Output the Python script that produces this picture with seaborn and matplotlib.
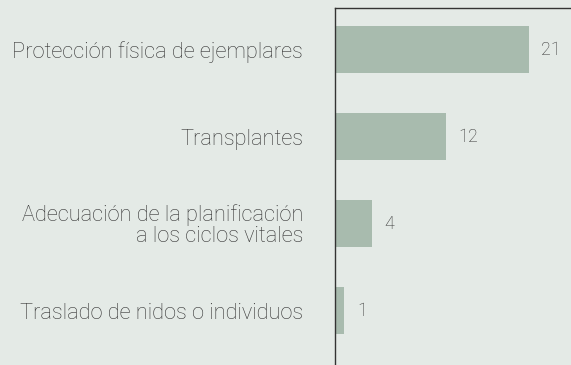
import matplotlib
matplotlib.use("Agg")
import matplotlib.pyplot as plt
import seaborn as sns
import pandas as pd

categories = [
    "Protección física de ejemplares",
    "Transplantes",
    "Adecuación de la planificación\na los ciclos vitales",
    "Traslado de nidos o individuos",
]
values = [21, 12, 4, 1]

bg = "#e4eae6"
bar_color = "#a8bbae"
text_color = "#343434"

sns.set_theme(style="white")
plt.rcParams["font.family"] = ["Roboto", "DejaVu Sans"]

df = pd.DataFrame({"medida": categories, "n": values})

fig = plt.figure(figsize=(5.71, 3.65), dpi=100, facecolor=bg)
ax = fig.add_axes([0.587, 0.0, 0.413, 0.978])
ax.set_facecolor(bg)

sns.barplot(data=df, y="medida", x="n", orient="h", color=bar_color,
            width=0.53, saturation=1, linewidth=0, ax=ax)

ax.set_xlim(0, 25.6)
ax.set_ylim(3.626, -0.477)
ax.set_xlabel("")
ax.set_ylabel("")
ax.set_xticks([])

ax.tick_params(axis="y", length=0, pad=23, labelsize=15.7,
               labelcolor=text_color)
for lbl in ax.get_yticklabels():
    lbl.set_horizontalalignment("right")
    lbl.set_multialignment("right")
    lbl.set_linespacing(0.95)
    lbl.set_fontweight("light")

ax.bar_label(ax.containers[0], labels=[str(v) for v in values],
             padding=9, fontsize=13, color=text_color, fontweight="light")

for side in ("bottom", "right"):
    ax.spines[side].set_visible(False)
for side in ("left", "top"):
    ax.spines[side].set_visible(True)
    ax.spines[side].set_color("#333333")
    ax.spines[side].set_linewidth(1.0)

fig.savefig("out.png", dpi=100, facecolor=bg)
